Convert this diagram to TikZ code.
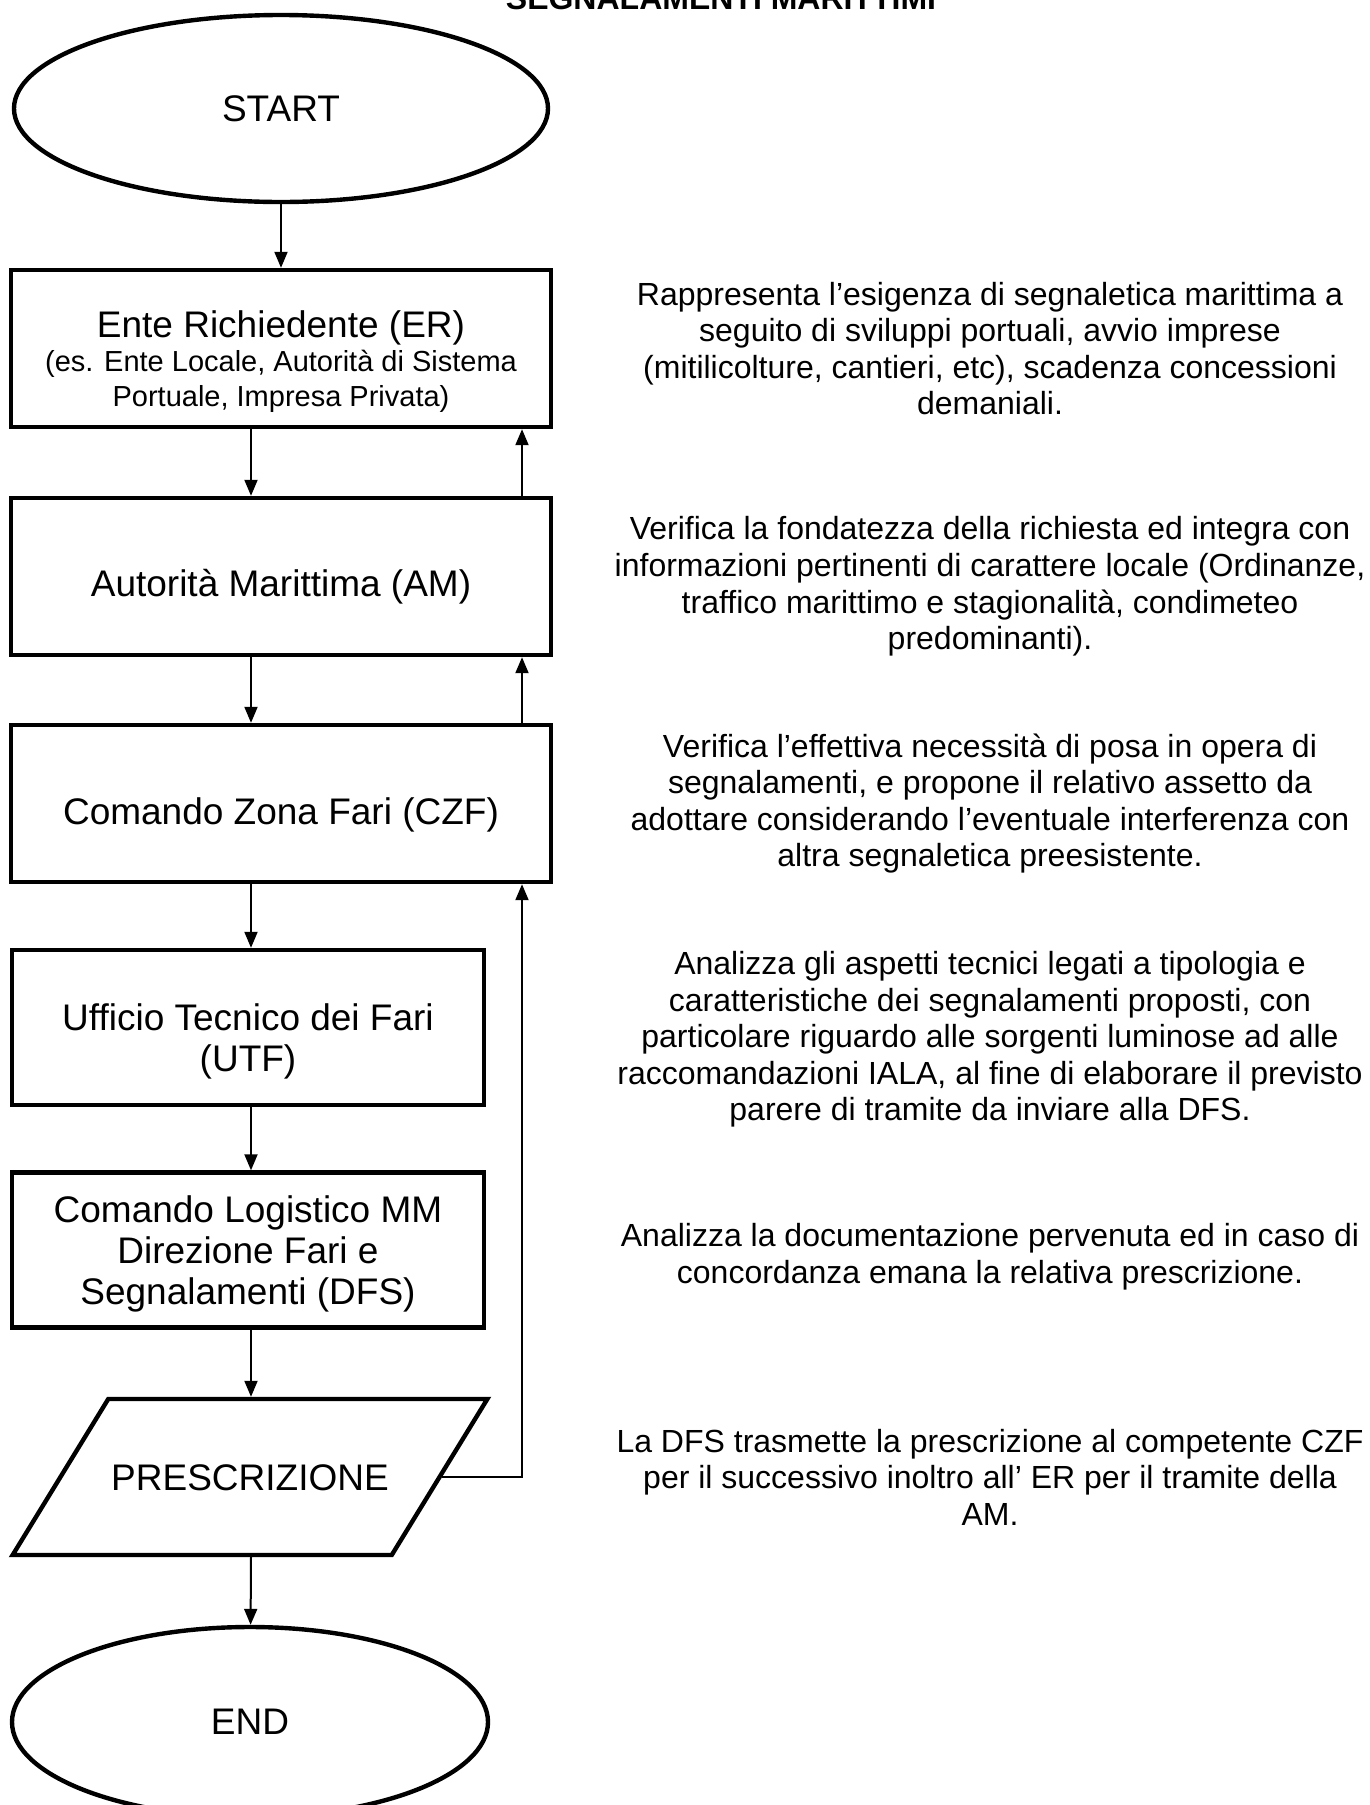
\documentclass[tikz,border=0pt]{standalone}
\usepackage{fontspec}
\setmainfont{Liberation Sans}
\usepackage{tikz}
\usetikzlibrary{arrows.meta,positioning,shapes.geometric,calc}
\newcommand\ersub{\fontsize{14.5}{17.5}\selectfont}
\newcommand\drop[1]{\rule{0pt}{#1}}
\tikzset{
  terminal/.style={ellipse,draw,line width=2.2pt,minimum width=267pt,minimum height=93.5pt,
    font=\fontsize{18.5}{20.5}\selectfont},
  block/.style={rectangle,draw,line width=2.2pt,minimum width=270pt,minimum height=78.5pt,
    align=center,font=\fontsize{18.5}{20.5}\selectfont},
  smallblock/.style={block,minimum width=236pt,minimum height=77.5pt},
  outbox/.style={trapezium,trapezium left angle=58.5,trapezium right angle=121.5,draw,
    line width=2.2pt,inner xsep=0pt,text width=141.75pt,align=center,text height=13.2pt,
    text depth=0pt,inner ysep=32.4pt,font=\fontsize{18.5}{20.5}\selectfont},
  note/.style={align=center,font=\fontsize{16}{18.3}\selectfont},
  flow/.style={-{Triangle[length=8pt,width=6.5pt]},line width=1pt},
  every node/.style={text=black}
}

\begin{document}
\begin{tikzpicture}[x=0.5pt,y=-0.5pt]
  \useasboundingbox (0,0) rectangle (1370,1805);
  \clip (0,0) rectangle (1370,1805);
  \node[anchor=base,font=\fontsize{16}{18}\selectfont\bfseries] (title) at (721,9) {SEGNALAMENTI MARITTIMI};

  % flow column
  \node[terminal] (start) at (281,108.5) {START};
  \node[block,font=\fontsize{18.5}{17.5}\selectfont] (er) at (281,348.5)
    {\drop{26.5pt}Ente Richiedente (ER)\\{\ersub (es. Ente Locale, Autorità di Sistema}\\{\ersub Portuale, Impresa Privata)}};
  \node[block] (am) at (281,576.5) {\drop{24pt}Autorità Marittima (AM)};
  \node[block] (czf) at (281,803.5) {\drop{25pt}Comando Zona Fari (CZF)};
  \node[smallblock] (utf) at (248,1027.5) {\drop{27.5pt}Ufficio Tecnico dei Fari\\(UTF)};
  \node[smallblock] (dfs) at (248,1250) {\drop{17.5pt}Comando Logistico MM\\Direzione Fari e\\Segnalamenti (DFS)};
  \node[outbox] (presc) at (250,1477) {PRESCRIZIONE};
  \node[terminal,minimum width=238pt,minimum height=95pt] (stop) at (250,1722) {END};

  % descriptions
  \coordinate (col) at (990,0);
  \node[note] (d1) at (er -| col) {Rappresenta l’esigenza di segnaletica marittima a\\seguito di sviluppi portuali, avvio imprese\\(mitilicolture, cantieri, etc), scadenza concessioni\\demaniali.};
  \node[note,yshift=-5pt] (d2) at (am -| col) {Verifica la fondatezza della richiesta ed integra con\\informazioni pertinenti di carattere locale (Ordinanze,\\traffico marittimo e stagionalità, condimeteo\\predominanti).};
  \node[note] (d3) at (czf -| col) {Verifica l’effettiva necessità di posa in opera di\\segnalamenti, e propone il relativo assetto da\\adottare considerando l’eventuale interferenza con\\altra segnaletica preesistente.};
  \node[note,yshift=-6pt] (d4) at (utf -| col) {Analizza gli aspetti tecnici legati a tipologia e\\caratteristiche dei segnalamenti proposti, con\\particolare riguardo alle sorgenti luminose ad alle\\raccomandazioni IALA, al fine di elaborare il previsto\\parere di tramite da inviare alla DFS.};
  \node[note,yshift=-3.5pt] (d5) at (dfs -| col) {Analizza la documentazione pervenuta ed in caso di\\concordanza emana la relativa prescrizione.};
  \node[note] (d6) at (presc -| col) {La DFS trasmette la prescrizione al competente CZF\\per il successivo inoltro all’ ER per il tramite della\\AM.};

  % connectors
  \coordinate (down) at (251,0);
  \coordinate (rail) at (522,0);
  \draw[flow] (start) -- (er);
  \draw[flow] (er.south -| down) -- (am.north -| down);
  \draw[flow] (am.south -| down) -- (czf.north -| down);
  \draw[flow] (czf.south -| down) -- (utf.north -| down);
  \draw[flow] (utf.south -| down) -- (dfs.north -| down);
  \draw[flow] (dfs.south -| down) -- (presc.north -| down);
  \draw[flow] (presc.south -| down) -- (stop);
  \draw[flow] (am.north -| rail) -- (er.south -| rail);
  \draw[flow] (czf.north -| rail) -- (am.south -| rail);
  \draw[flow] (presc.east) -| (czf.south -| rail);
\end{tikzpicture}
\end{document}
